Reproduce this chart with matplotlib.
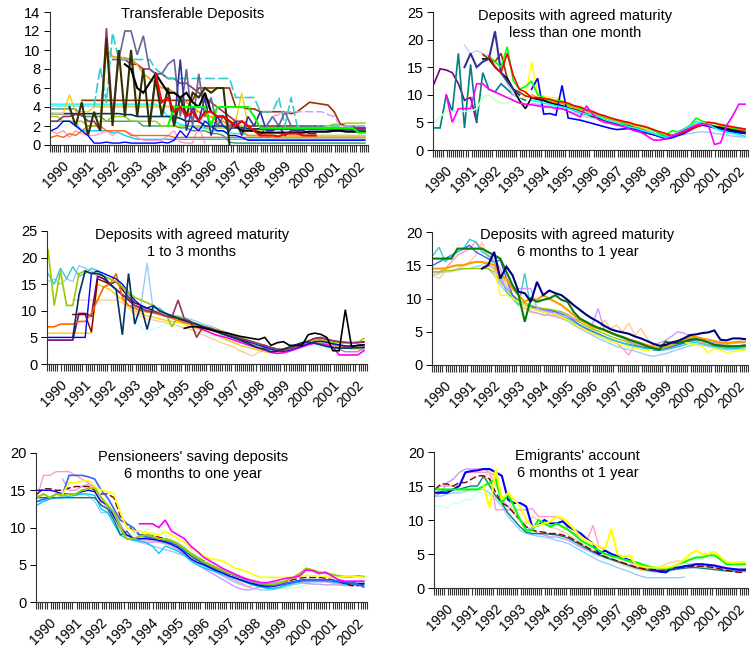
import numpy as np
import matplotlib.pyplot as plt

plt.rcParams["font.family"] = ["Liberation Sans", "DejaVu Sans"]

W, H, DPI = 749, 650, 100
N_MONTHS = 155
year_labels = [str(y) for y in range(1990, 2003)]

# values are read every quarter (3 months), starting at quarter index "start"

# ---- Transferable deposits ----
p1_cyan = [4.3, 4.3, 4.3, 4.3, 4.3, 4.3, 4.3, 4.3, 4.3, 4.3, 4.3, 4.3, 4.3, 4.3, 4.3, 4.3, 4.3, 4.3, 3.8, 3.0,
           2.5, 2.2, 2.0, 2.0, 1.8, 1.8, 1.5, 1.5, 1.4, 1.3, 1.2, 1.2, 1.0, 1.0, 1.0, 1.0, 1.0, 1.0, 1.0, 1.0,
           1.0, 1.0, 1.0, 1.0, 1.0, 1.0, 1.0, 1.0, 1.0, 1.0, 1.0, 1.0]
p1_lightblue = [4.1, 4.1, 4.1, 4.1, 4.1, 4.1, 4.1, 4.1, 4.1, 4.1, 4.1, 4.1, 4.1, 4.1, 4.1, 4.1, 4.1, 4.1, 4.1, 4.1,
                4.1, 3.5, 3.0, 3.0, 2.8, 2.5, 2.5, 2.2, 2.0, 2.0, 2.0, 1.8, 1.8, 1.6, 1.6, 1.6, 1.6, 1.6, 1.6, 1.6,
                1.6, 1.6, 1.6, 1.6, 1.6, 1.6, 1.6, 1.6, 1.6, 1.6, 1.6, 1.6]
p1_teal = [3.8, 3.8, 3.8, 3.8, 3.8, 3.0, 3.0, 3.0, 3.0, 2.5, 2.5, 2.5, 2.5, 2.5, 2.5, 2.0, 2.0, 2.0, 2.0, 2.0,
           2.0, 1.8, 1.8, 1.5, 1.5, 1.5, 1.2, 1.2, 1.0, 0.3, 0.2, 0.2, 0.2, 0.2, 0.2, 0.2, 0.2, 0.2, 0.2, 0.2,
           0.2, 0.2, 0.2, 0.2, 0.2, 0.2, 0.2, 0.2, 0.2, 0.2, 0.2, 0.2]
p1_navy = [3.3, 3.3, 3.3, 3.3, 3.3, 3.3, 3.3, 3.3, 3.3, 3.3, 3.3, 3.3, 3.2, 3.2, 3.0, 3.0, 3.0, 3.0, 3.0, 3.0,
           3.0, 2.8, 2.5, 2.5, 2.5, 2.0, 2.0, 2.0, 2.0, 1.8, 1.8, 1.8, 1.7, 1.7, 1.7, 1.7, 1.7, 1.7, 1.7, 1.7,
           1.7, 1.7, 1.7, 1.7, 1.7, 1.7, 1.7, 1.7, 1.7, 1.7, 1.7, 1.7]
p1_sky = [2.5, 2.5, 2.5, 2.5, 2.3, 1.5, 1.5, 1.5, 1.5, 1.5, 1.3, 1.3, 1.0, 0.8, 0.6, 0.6, 0.6, 0.6, 0.6, 0.6,
          0.6, 0.6, 0.6, 0.6, 0.6, 0.6, 0.6, 0.6, 0.6, 0.6, 0.6, 0.6, 0.6, 0.6, 0.6, 0.6, 0.6, 0.6, 0.6, 0.6,
          0.6, 0.6, 0.6, 0.6, 0.6, 0.6, 0.6, 0.6, 0.6, 0.6, 0.6, 0.6]
p1_pink = [1.5, 1.2, 1.5, 0.8, 1.5, 1.2, 1.0, 1.0, 1.2, 1.5, 1.0, 1.5, 1.5, 1.2, 0.8, 0.5, 0.5, 0.5, 0.5, 1.0,
           1.5, 0.3, 0.2, 0.2, 2.0, 0.2]
p1_orange_low = [0.8, 1.0, 0.8, 1.2, 1.0, 1.5, 2.0, 2.0, 2.0, 1.5, 1.5, 1.5, 1.5, 1.0, 1.0, 1.0, 1.0, 1.0, 1.0, 1.0,
                 0.8, 0.8, 0.8, 0.8, 0.8, 0.8, 0.8, 0.8, 0.8, 0.8, 0.8, 0.8, 0.8, 0.8, 0.8, 0.8, 0.8, 0.8, 0.8, 0.8,
                 0.8, 0.8, 0.8, 0.8, 0.8, 0.8, 0.8, 0.8, 0.8, 0.8, 0.8, 0.8]
p1_gold = [3.3, 3.3, 3.3, 5.3, 3.5, 3.5, 3.5, 4.0, 4.0, 4.0, 4.0, 4.0, 4.0, 4.0, 4.0, 4.0, 4.0, 4.0, 4.0, 4.0,
           4.0, 4.0, 3.5, 3.5, 3.5, 3.0, 3.0, 3.0, 3.0, 2.5, 2.5, 5.5, 2.0, 1.5, 1.5, 1.0, 1.0, 1.0, 1.0, 1.0,
           1.0, 1.0, 1.0, 1.0, 1.0, 1.0, 1.0, 1.0, 1.0, 1.0, 1.0, 1.0]
p1_lime = [3.0, 3.0, 2.5, 2.5, 2.5, 2.5, 2.0, 2.0, 2.5, 2.5, 3.0, 3.0, 3.0, 2.5, 2.5, 2.5, 2.5, 2.5, 2.0, 2.0,
           2.0, 2.0, 2.0, 2.0, 2.0, 1.8, 1.8, 1.8, 1.8, 1.8, 2.0, 2.0, 2.0, 2.0, 2.0, 2.0, 2.0, 2.0, 2.0, 2.0,
           2.0, 2.0, 2.0, 2.0, 2.0, 2.0, 2.2, 2.2, 2.3, 2.3, 2.3, 2.3]
p1_blue = [1.5, 1.8, 2.5, 2.5, 2.0, 1.5, 1.0, 0.2, 0.2, 0.3, 0.2, 0.2, 0.3, 0.2, 0.2, 0.2, 0.2, 0.2, 0.3, 0.2,
           0.5, 1.5, 0.8, 2.0, 1.5, 2.5, 2.0, 1.5, 1.5, 1.0, 1.0, 0.8, 0.5, 0.5, 0.5, 0.5, 0.5, 0.5, 0.5, 0.5,
           0.5, 0.5, 0.5, 0.5, 0.5, 0.5, 0.5, 0.5, 0.5, 0.5, 0.5, 0.5]
p1_brown = [4.7, 4.7, 4.7, 4.7, 4.7, 4.7, 4.7, 4.7, 4.7, 4.7, 4.7, 4.7, 4.7, 4.7, 4.7, 4.7, 4.7, 4.7, 4.7,
            6.0, 6.0, 6.0, 6.0, 6.0, 6.0, 4.0, 4.0, 3.8, 3.8, 3.5, 3.5, 3.5, 3.5, 3.5, 3.3, 3.5, 4.0, 4.5, 4.4,
            4.3, 4.2, 3.5, 2.2, 2.0, 2.0, 1.8, 1.8]
p1_plum = [2.5, 2.5, 3.0, 3.0, 3.2, 3.2, 2.5, 2.5, 1.5, 12.3, 3.0, 9.0, 9.0, 8.5, 8.5, 8.0, 8.0, 7.5, 7.5, 7.0,
           7.0, 6.5, 6.5, 6.0, 5.5, 5.0, 4.5, 4.0, 3.5, 3.0, 2.5, 2.5, 2.0, 2.0, 2.0, 2.0, 2.0, 2.0, 2.0, 2.0,
           2.0, 2.0, 2.0, 2.0, 1.8, 1.8, 1.8, 1.8, 1.8, 1.8, 1.8, 1.8]
p1_darkgreen = [4.0, 2.0, 4.5, 1.0, 3.5, 1.5, 11.2, 2.0, 10.0, 3.0, 10.0, 3.0, 8.0, 2.0, 7.0, 3.0, 6.0,
                2.0, 5.0, 3.0, 5.5, 5.0, 6.0, 5.5, 6.0, 6.0, 0.0]
p1_orange = [2.0, 10.2, 9.3, 9.2, 9.2, 9.0, 8.5, 7.5, 7.0, 6.5, 6.0, 6.0, 5.5, 5.0, 4.5, 4.0, 3.5, 3.0, 3.0, 2.5,
             2.5, 2.0, 2.0, 1.5, 1.0, 1.0, 1.0, 1.0, 0.8, 0.8, 0.8, 0.8, 0.8, 0.8, 0.8, 0.8, 0.8, 0.8, 0.8, 0.8,
             0.8, 0.8, 0.8, 0.8]
p1_aqua = [4.1, 8.2, 4.5, 11.8, 9.0, 9.0, 9.0, 9.0, 9.0, 9.0, 8.0, 7.5, 7.0, 7.0, 7.0, 7.0, 7.0, 7.0, 7.0, 7.0,
           7.0, 7.0, 7.0, 5.0, 5.0, 5.0, 5.0, 3.5, 3.5, 3.5, 5.0, 2.0, 5.0, 2.0, 2.0, 2.0, 2.0, 2.0, 2.0, 2.0,
           2.0, 2.0, 2.0, 2.0, 2.0]
p1_slate = [9.0, 9.0, 12.0, 12.0, 9.5, 11.5, 8.0, 7.5, 7.5, 8.5, 9.0, 3.0, 8.0, 2.0, 7.5, 3.0, 5.0, 2.0,
            3.0, 2.0, 2.5, 1.5, 2.0, 1.5, 1.0, 2.0, 3.0, 2.0, 3.5, 2.0, 1.5, 2.0, 2.0, 1.8, 2.0, 1.5, 1.5, 1.5,
            1.5, 1.5, 1.5, 1.5]
p1_indigo = [2.0, 7.5, 3.0, 6.0, 2.0, 9.0, 1.5, 4.0, 2.5, 5.0, 1.0, 3.0, 2.0, 1.5, 2.5, 1.0, 3.0, 2.0, 3.5, 1.5,
             1.5, 2.0, 1.0, 1.5, 1.5, 1.5, 1.2, 1.2]
p1_black = [8.5, 8.0, 6.0, 5.5, 6.5, 7.5, 6.5, 5.5, 5.5, 5.0, 5.5, 4.5, 4.0, 5.5, 3.5, 3.0, 3.0, 2.5, 2.0, 1.5,
            1.5, 1.5, 1.3, 1.3, 1.3, 1.3, 1.3, 1.3, 1.3, 1.3, 1.4, 1.4, 1.4, 1.4, 1.5, 1.5, 1.4, 1.4, 1.4, 1.4]
p1_lavender = [3.0, 3.2, 3.5, 3.5, 3.5, 3.5, 3.5, 3.5, 3.5, 3.2, 3.0, 2.0, 2.0, 2.0, 2.0, 2.0]
p1_green = [2.0, 4.0, 4.0, 4.0, 4.0, 4.0, 4.0, 2.0, 4.0, 4.0, 4.0, 4.0, 4.0, 4.0, 3.0, 1.8, 1.8, 1.8, 1.8, 1.8,
            1.8, 1.8, 1.8, 1.8, 1.8, 1.8, 1.8, 1.8, 1.8, 1.8, 1.8, 1.3, 1.3]
p1_red = [7.5, 4.5, 5.0, 3.5, 4.0, 3.0, 3.5, 2.5, 3.5, 3.5, 3.0, 3.0, 2.5, 2.0, 2.5, 2.0, 1.5, 1.0, 1.0,
          1.0, 0.9, 1.2, 1.2, 1.2, 1.0, 1.0, 1.0]

# ---- Agreed maturity, less than one month ----
p2_purple = [12.0, 14.7, 14.5, 14.0, 12.0, 9.0, 9.5, 5.0]
p2_teal = [4.0, 4.0, 10.0, 7.0, 17.5, 4.0, 15.5, 5.0, 14.0, 11.0, 10.5, 12.0, 11.0, 10.0, 9.5, 9.0]
p2_lightgreen = [5.0, 6.0, 7.0, 7.0, 7.0, 7.0, 7.0, 7.5, 9.5, 10.0, 9.0, 8.5, 8.5, 8.8, 8.5, 8.3, 8.2, 8.0, 7.8, 7.5]
p2_navy = [15.0, 17.5, 15.0, 16.0, 16.5, 21.5, 14.0, 12.5, 11.0, 10.0]
p2_lavender = [19.0, 17.5, 18.0, 17.5, 17.0, 15.5, 14.0, 12.0, 10.0, 9.5]
p2_brown = [17.3, 16.5, 16.0, 17.5, 13.0, 11.0, 10.5, 9.8, 9.5, 9.2, 9.0, 8.6, 8.2, 8.0, 7.6, 7.4, 7.0, 6.6, 6.2,
            5.8, 5.4, 5.0, 4.7, 4.4, 4.0, 3.5, 3.2, 3.0, 2.8, 2.6, 2.4, 2.6, 3.0, 3.4, 3.9, 4.4, 4.7, 4.6, 4.3,
            4.1, 3.9, 3.7, 3.5, 3.4]
p2_black = [16.5, 16.5, 15.0, 14.0, 13.0, 11.0, 9.0, 7.5, 9.5, 9.2, 9.0, 8.5, 8.3, 8.0, 7.6, 7.2, 6.8, 6.5, 6.1,
            5.8, 5.4, 5.1, 4.8, 4.6, 4.3, 4.0, 3.6, 3.2, 2.8, 2.5, 2.2, 2.4, 2.8, 3.2, 3.8, 4.3, 4.6, 4.5, 4.2,
            4.0, 3.8, 3.5, 3.3, 3.1]
p2_yellow = [9.5, 9.5, 16.0, 10.0, 9.8, 9.5, 9.5, 9.0, 8.5, 8.0, 7.5, 7.0, 6.7, 6.3, 5.8, 5.5, 5.2, 5.0, 4.6, 4.3,
             4.0, 3.6, 3.0, 2.5, 2.2, 2.4, 2.8, 3.2, 3.5, 4.0, 4.5, 4.3, 4.0, 3.8, 3.6, 3.4, 3.3, 3.3]
p2_paleblue = [8.5, 8.3, 8.1, 7.9, 7.7, 7.4, 7.0, 6.8, 6.4, 6.0, 5.8, 5.5, 5.2, 4.9, 4.6, 4.4, 4.1, 3.8, 3.5, 3.2,
               2.9, 2.5, 2.2, 2.3, 2.6, 2.8, 3.0, 3.2, 3.3, 3.2, 3.0, 2.9, 2.7, 2.5, 2.4, 2.3]
p2_orange = [10.0, 9.5, 9.0, 8.8, 8.6, 8.4, 8.0, 7.7, 7.3, 7.0, 6.6, 6.2, 5.8, 5.5, 5.2, 4.9, 4.5, 4.2, 3.9, 3.5,
             3.0, 2.7, 2.5, 2.7, 3.1, 3.6, 4.1, 4.7, 4.9, 4.7, 4.3, 4.2, 4.0, 3.8, 3.7, 3.6]
p2_blue = [11.0, 13.0, 6.5, 6.6, 6.3, 11.7, 5.8, 5.6, 5.4, 5.1, 4.8, 4.5, 4.2, 3.9, 3.7, 3.8, 3.9, 3.7, 3.4, 3.1,
           2.8, 2.4, 2.0, 2.2, 2.6, 3.0, 3.6, 4.2, 4.5, 4.3, 4.0, 3.8, 3.5, 3.3, 3.1, 3.0]
p2_cyan = [9.0, 8.8, 8.5, 8.3, 8.0, 7.8, 7.5, 7.2, 6.8, 6.5, 6.3, 6.0, 5.5, 5.2, 4.9, 4.6, 4.2, 4.0, 3.6, 3.3,
           3.0, 2.6, 2.3, 2.5, 3.2, 3.7, 4.3, 5.2, 4.8, 4.6, 4.0, 3.5, 3.2, 3.0, 2.8, 2.5]
p2_green = [17.0, 16.0, 15.0, 18.7, 12.5, 11.0, 11.5, 12.5, 10.0, 9.5, 9.0, 9.0, 8.8, 8.2, 8.0, 7.5, 7.2, 6.8,
            6.4, 6.0, 5.7, 5.4, 5.1, 4.8, 4.6, 4.3, 4.0, 3.5, 3.0, 2.6, 3.5, 3.3, 3.8, 4.5, 5.8, 5.2, 5.0, 4.8,
            4.5, 4.2, 4.0, 3.9, 3.8]
p2_red = [17.0, 15.0, 14.0, 17.5, 13.5, 11.0, 10.5, 9.5, 9.5, 9.3, 9.2, 8.8, 8.7, 8.5, 8.0, 7.8, 7.3, 7.0, 6.5,
          6.2, 5.8, 5.5, 5.2, 5.0, 4.6, 4.4, 4.1, 3.7, 3.3, 3.0, 2.6, 2.8, 3.2, 3.7, 4.2, 4.6, 5.0, 4.9, 4.6,
          4.4, 4.2, 4.0, 3.8]
p2_magenta = [10.0, 5.0, 7.5, 7.5, 7.5, 12.0, 12.0, 11.0, 10.5, 10.0, 9.5, 9.0, 8.5, 8.3, 8.2, 8.0, 7.8, 7.8,
              7.5, 7.5, 7.0, 6.5, 6.0, 8.0, 6.5, 5.5, 5.0, 4.8, 4.5, 4.3, 3.8, 3.5, 3.2, 2.5, 1.8, 1.8, 2.0,
              2.5, 3.0, 3.5, 4.0, 4.5, 4.8, 4.5, 1.0, 1.3, 4.5, 6.2, 8.3, 8.3]

# ---- Agreed maturity, 1 to 3 months ----
p3_lime = [21.5, 11.0, 17.5, 11.0, 11.0, 17.0, 17.5, 17.0, 17.0, 16.5, 16.0, 15.5, 14.5, 13.5, 12.5, 12.0,
           11.5, 11.0, 10.0, 9.5, 7.0, 9.0, 8.5, 8.0, 7.5, 7.2, 6.8, 6.5, 6.2, 5.8, 5.4, 5.0, 4.6, 4.2, 3.8,
           3.5, 3.1, 2.8, 2.6, 2.8, 3.2, 3.7, 4.1, 4.5, 4.6, 4.4, 4.1, 4.0, 3.9, 3.9, 4.0, 4.8]
p3_navy = [5.0, 5.0, 5.0, 5.0, 5.0, 5.0, 5.0, 17.0, 17.5, 17.0, 16.5, 16.0, 15.0, 13.5, 12.0, 11.0, 10.5, 11.0,
           10.0, 9.5, 9.0, 8.7, 8.3, 8.0, 7.5, 7.0, 6.7, 6.3, 5.8, 5.4, 5.0, 4.7, 4.3, 4.0, 3.6, 3.2, 2.8, 2.5,
           2.4, 2.6, 3.0, 3.4, 3.8, 4.2, 4.3, 4.1, 3.8, 3.6, 3.4, 3.4, 3.5, 3.6]
p3_purple = [4.5, 4.5, 4.5, 4.5, 4.5, 9.5, 9.5, 9.0, 16.5, 16.0, 15.0, 14.0, 13.0, 12.0, 11.0, 10.5]
p3_darkred = [9.3, 9.3, 9.3, 6.0, 16.0, 15.5, 15.0, 15.5, 14.0, 12.5, 11.5, 11.0, 10.5, 10.0, 9.5, 9.0, 8.8,
              8.5, 8.2, 7.8, 7.5, 7.0, 6.8, 6.4, 6.0, 5.5, 5.2, 4.8, 4.4, 4.0, 3.7, 3.3, 3.0, 2.8, 2.7, 3.0,
              3.5, 3.9, 4.3, 4.8, 4.9, 4.6, 4.3, 4.1, 4.0, 4.0, 4.1, 4.2]
p3_orange = [7.0, 7.0, 7.5, 7.5, 7.5, 8.0, 8.0, 9.5, 12.0, 14.5, 15.0, 17.0, 12.5, 11.0, 10.5, 10.0, 9.8, 9.6,
             9.3, 9.0, 8.6, 8.2, 7.8, 7.5, 7.1, 6.8, 6.5, 6.1, 5.7, 5.3, 5.0, 4.6, 4.2, 3.9, 3.5, 3.2, 2.9, 2.7,
             2.8, 3.0, 3.5, 4.0, 4.3, 4.6, 4.5, 4.2, 3.9, 3.5, 3.2, 3.3, 3.0, 3.2]
p3_gold = [5.8, 5.8, 5.8, 5.8, 5.8, 5.8, 5.8, 5.8, 15.0, 14.5, 14.0, 13.0, 12.0, 11.0, 10.0, 9.5, 9.0, 8.8, 8.5,
           8.2, 8.0, 7.8, 7.5, 7.0, 6.7, 6.3, 6.0, 5.5, 5.0, 4.5, 4.0, 3.5, 3.2, 2.9, 2.6, 2.3, 2.1, 2.0, 2.2,
           2.6, 3.0, 3.4, 3.8, 4.2, 4.0, 3.8, 3.5, 3.3, 3.0, 2.8, 2.8, 2.7]
p3_tan = [12.0, 12.0, 12.0, 12.0, 12.0, 12.0, 12.0, 12.0, 11.5, 10.5, 9.5, 9.0, 8.5, 8.3, 8.0, 7.8, 7.5, 7.2,
          6.8, 6.5, 6.0, 5.5, 5.0, 4.5, 4.0, 3.6, 3.2, 2.5, 2.0, 1.5, 2.2, 2.5]
p3_lightblue = [15.5, 16.0, 15.0, 16.0, 15.5, 18.5, 18.0, 17.5, 16.5, 16.0, 15.0, 14.0, 13.0, 12.0, 11.5, 11.0,
                19.0, 10.0, 9.8, 9.5, 9.2, 9.0, 8.7, 8.4, 8.0, 7.5, 7.2, 6.8, 6.3, 5.9, 5.4, 4.9, 4.4, 4.0,
                3.6, 3.2, 2.9, 2.6, 2.5, 2.7, 3.1, 3.5, 3.9, 4.2, 4.3, 4.1, 3.9, 3.6, 3.4, 3.3, 3.3, 3.3]
p3_teal = [17.0, 15.0, 18.0, 16.0, 18.3, 16.5, 17.0, 18.0, 17.5, 16.5, 16.0, 15.5, 14.5, 13.0, 11.5, 11.0, 10.0,
           10.5, 10.5, 9.5, 9.0, 8.5, 8.0, 7.7, 7.3, 7.0, 6.6, 6.2, 5.8, 5.4, 5.0, 4.5, 4.1, 3.8, 3.4, 3.0, 2.7,
           2.5, 2.4, 2.7, 3.1, 3.5, 3.9, 4.1, 4.1, 3.9, 3.6, 3.4, 3.1, 3.0, 2.9, 2.9]
p3_palecyan = [8.0, 7.0, 6.0, 6.5, 7.0, 7.5, 7.3, 7.0, 6.8, 6.5, 6.2, 5.9, 5.5, 5.1, 4.7, 4.3, 3.9, 3.5, 3.1,
               2.8, 2.5, 2.3, 2.2, 2.4, 2.8, 3.2, 3.5, 3.7, 3.6, 3.4, 3.2, 3.0, 2.9, 2.9, 3.0, 3.0, 3.0, 3.0]
p3_magenta = [7.0, 6.5, 6.0, 5.5, 5.2, 4.9, 4.5, 4.1, 3.7, 3.3, 3.0, 2.6, 2.2, 2.0, 2.1, 2.4, 2.8, 3.2, 3.6,
              3.9, 3.8, 3.6, 3.2, 1.7, 1.7, 1.7, 1.7, 2.5]
p3_gray = [7.3, 6.9, 6.6, 6.2, 5.8, 5.4, 5.0, 4.6, 4.3, 3.9, 3.5, 3.2, 2.9, 2.6, 2.5, 2.6, 3.0, 3.4, 3.8, 4.1,
           4.2, 4.0, 3.8, 2.8, 2.3, 2.3, 2.3, 3.0]
p3_plum = [13.0, 12.5, 11.0, 10.5, 10.0, 9.8, 9.5, 9.0, 8.8, 12.0, 8.5, 8.0, 5.0, 7.0, 6.8, 6.4, 6.0, 5.6, 5.2,
           4.8, 4.5, 4.2, 3.8, 3.5, 3.1, 2.8, 2.6, 2.8, 3.3, 3.8, 4.3, 4.8, 5.0, 4.7, 4.4, 4.2, 4.1, 4.0, 4.0, 4.1]
p3_darkteal = [5.0, 13.0, 17.5, 17.0, 17.0, 16.5, 15.0, 14.0, 5.5, 17.0, 7.5, 11.0, 6.5, 11.0, 10.0, 9.5, 9.0,
               8.6, 8.2, 7.8, 7.5, 7.0, 6.6, 6.2, 5.7, 5.3, 4.9, 4.5, 4.0, 3.5, 3.0, 2.8, 2.3, 2.4, 2.8, 3.2,
               3.6, 4.0, 4.1, 3.9, 3.6, 3.3, 3.1, 3.0, 3.0, 3.0, 3.1, 3.1]
p3_black = [6.7, 7.0, 7.0, 6.8, 6.5, 6.2, 6.0, 5.8, 5.5, 5.2, 5.0, 4.8, 4.6, 5.0, 3.5, 4.0, 4.2, 3.5, 3.5, 3.5,
            5.5, 5.8, 5.6, 5.0, 2.5, 2.5, 10.2, 3.3, 3.5, 3.6]

# ---- Agreed maturity, 6 months to 1 year ----
p4_green = [16.0, 16.0, 16.0, 16.0, 17.5, 17.5, 17.5, 17.5, 17.5, 17.0, 16.5, 16.0, 14.0, 12.0, 10.5, 6.5, 10.0,
            9.5, 9.8, 10.0, 10.5, 9.8, 9.5, 8.0, 7.0, 6.5, 6.0, 5.6, 5.3, 4.9, 4.5, 4.2, 3.8, 3.5, 3.2, 2.8, 2.5,
            2.3, 3.5, 3.3, 3.3, 3.5, 3.8, 3.9, 3.7, 3.4, 3.0, 2.9, 2.8, 2.8, 2.8, 2.9]
p4_turq = [16.5, 17.7, 15.5, 16.5, 17.0, 17.5, 18.9, 18.5, 17.0, 16.5, 15.5, 13.5, 11.0, 10.0, 9.0, 13.8, 8.5,
           8.3, 8.0, 7.8, 7.6, 7.3, 7.0, 6.3, 5.8, 5.3, 4.9, 4.5, 4.2, 3.9, 3.6, 3.3, 3.0, 2.8, 2.6, 2.4, 2.3, 2.2,
           2.3, 2.5, 2.7, 3.0, 3.3, 3.4, 3.2, 3.0, 2.8, 2.6, 2.5, 2.5, 2.5, 2.6]
p4_pink = [14.0, 14.0, 14.5, 15.5, 16.5, 17.0, 17.5, 18.5, 17.5, 16.5, 16.0, 14.5, 12.0, 10.5, 9.5, 9.0, 8.0,
           7.8, 7.5, 7.5, 7.3, 7.0, 6.8, 6.2, 5.6, 5.2, 4.8, 4.4, 4.0, 3.6, 3.3, 2.5, 1.5, 3.0, 2.8, 2.6, 2.4,
           2.3, 2.5, 2.7, 3.0, 3.3, 3.6, 3.6, 3.4, 3.1, 2.9, 2.8, 2.6, 2.6, 2.7, 2.8]
p4_tan = [13.5, 13.0, 14.0, 14.0, 14.5, 15.0, 15.5, 16.5, 18.5, 16.0, 15.0, 13.5, 12.0, 10.0, 9.0, 8.5, 8.5, 8.2,
          8.0, 7.8, 7.5, 7.3, 7.0, 6.5, 6.0, 5.6, 5.3, 5.0, 6.8, 5.5, 6.0, 5.0, 6.3, 4.5, 5.5, 4.0, 3.0, 2.7,
          2.6, 2.8, 3.2, 3.6, 4.0, 4.2, 4.0, 3.8, 3.5, 3.3, 3.2, 3.2, 3.3, 3.3]
p4_lightblue = [13.5, 13.8, 14.0, 14.2, 14.5, 14.5, 14.5, 14.8, 15.0, 14.5, 13.5, 12.0, 11.0, 10.0, 9.0, 8.5,
                8.0, 7.8, 7.6, 7.5, 7.3, 7.0, 6.6, 6.0, 5.5, 5.0, 4.5, 4.0, 3.6, 3.2, 2.8, 2.5, 2.3, 2.1, 1.8,
                1.5, 1.3, 1.5, 1.7, 2.0, 2.3, 2.6, 2.9, 3.1, 3.0, 2.8, 2.6, 2.4, 2.3, 2.3, 2.4, 2.4]
p4_blue = [15.0, 15.5, 16.0, 16.5, 17.0, 17.5, 18.0, 17.0, 16.5, 16.0, 15.5, 15.8, 13.0, 10.5, 9.5, 9.0, 8.8,
           8.5, 8.3, 8.2, 8.0, 7.7, 7.3, 6.7, 6.0, 5.5, 5.1, 4.7, 4.3, 3.9, 3.6, 3.3, 3.1, 2.9, 2.7, 2.5, 2.3,
           2.2, 2.4, 2.7, 3.0, 3.3, 3.6, 3.8, 3.7, 3.4, 3.2, 3.0, 2.8, 2.8, 2.9, 3.0]
p4_lime = [14.0, 14.0, 14.2, 14.2, 14.3, 14.5, 14.5, 14.5, 14.5, 14.5, 14.0, 12.5, 11.5, 10.5, 9.8, 9.3, 9.0,
           8.7, 8.5, 8.4, 8.2, 8.0, 7.6, 7.0, 6.4, 5.9, 5.5, 5.1, 4.7, 4.3, 4.0, 3.7, 3.4, 3.1, 2.9, 2.7, 2.5,
           2.4, 2.6, 2.9, 3.2, 3.5, 3.9, 4.0, 3.8, 3.5, 3.3, 3.1, 3.0, 2.9, 2.9, 3.0]
p4_yellow = [15.0, 14.8, 14.5, 10.5, 10.5, 10.0, 9.5, 9.0, 8.5, 8.3, 8.0, 7.8, 7.6, 7.2, 6.8, 6.2, 5.7, 5.2, 4.8,
             4.4, 4.0, 3.6, 3.3, 3.0, 2.7, 2.5, 2.3, 2.2, 2.4, 2.7, 3.0, 3.4, 3.6, 3.5, 3.2, 3.0, 2.8, 1.8, 2.5,
             2.2, 1.9, 2.0, 2.1, 2.2]
p4_lavender = [15.5, 15.0, 14.5, 13.0, 11.5, 11.5, 11.5, 11.5, 11.5, 8.5, 8.2, 8.0, 7.8, 7.5, 7.3, 7.0, 6.7,
               6.4, 6.0, 8.5, 5.2, 4.8, 4.4, 4.0, 3.6, 3.3, 3.0, 2.8, 3.0, 3.3, 3.7, 4.3, 5.0, 4.8, 4.4, 4.0,
               3.7, 3.5, 3.3, 3.2, 3.2, 3.3, 3.4, 3.5]
p4_orange = [14.5, 14.5, 14.5, 14.8, 15.0, 15.0, 15.3, 15.5, 15.5, 15.3, 15.0, 13.5, 13.0, 11.5, 10.5, 9.5,
             10.0, 9.8, 10.5, 10.0, 9.5, 9.0, 8.3, 7.5, 6.8, 6.3, 5.8, 5.5, 5.2, 4.8, 4.5, 4.2, 3.9, 3.6, 3.3,
             3.0, 2.7, 2.5, 2.8, 3.2, 3.4, 3.8, 4.2, 4.2, 4.0, 3.8, 3.6, 3.4, 3.3, 3.4, 3.5, 3.5]
p4_navy = [14.5, 15.0, 17.0, 13.0, 14.8, 13.5, 11.0, 10.8, 9.5, 12.5, 10.5, 11.2, 10.8, 10.5, 9.8, 9.0, 8.3,
           7.6, 7.0, 6.5, 5.9, 5.4, 5.1, 4.9, 4.7, 4.3, 4.0, 3.6, 3.2, 2.9, 3.0, 3.4, 3.6, 4.0, 4.5, 4.6, 4.8,
           4.9, 5.2, 3.8, 3.7, 4.0, 4.0, 3.9]

# ---- Pensioners' saving deposits ----
p5_pink = [14.0, 17.0, 17.0, 17.5, 17.5, 17.5, 17.0, 16.5, 16.0, 15.0, 13.0, 12.5, 11.5, 10.0, 9.0, 8.5, 8.5,
           8.3, 8.2, 8.0, 7.8, 7.5, 7.0, 6.5, 6.0, 5.5, 5.0, 4.5, 4.0, 3.6, 3.2, 2.8, 2.5, 2.0, 2.5, 2.2, 1.9,
           1.8, 2.0, 2.3, 2.6, 2.8, 2.8, 2.9, 2.8, 2.7, 2.6, 2.4, 2.3, 2.3, 2.3, 2.2]
p5_lavender = [16.5, 15.0, 15.0, 15.5, 15.8, 15.5, 14.0, 12.5, 12.0, 10.5, 9.0, 8.5, 8.2, 8.0, 8.0, 8.2, 8.0,
               7.6, 7.0, 6.3, 5.6, 5.0, 4.5, 4.0, 3.5, 3.0, 2.5, 2.0, 1.7, 1.6, 1.8, 2.1, 2.4, 2.6, 2.7, 2.7,
               2.7, 2.6, 2.5, 2.4, 2.4, 2.3, 2.3, 2.3, 2.2, 2.2, 2.2, 2.2]
p5_lightblue = [13.5, 13.5, 14.0, 14.0, 14.2, 14.5, 14.5, 14.5, 14.3, 13.5, 12.0, 12.0, 11.0, 9.5, 8.5, 8.3,
                8.0, 7.8, 7.5, 7.3, 7.0, 6.8, 6.5, 6.2, 5.8, 5.3, 4.8, 4.4, 4.0, 3.5, 3.0, 2.6, 2.3, 2.0, 1.8,
                1.6, 1.6, 1.7, 1.9, 2.1, 2.3, 2.5, 2.6, 2.7, 2.7, 2.7, 2.6, 2.5, 2.4, 2.4, 2.4, 2.5]
p5_lightgreen = [9.0, 9.5, 10.5, 10.0, 9.0, 8.5, 8.0, 7.5, 7.0, 6.3, 5.7, 5.2, 4.7, 4.3, 3.9, 3.5, 3.1, 2.8,
                 2.5, 2.2, 2.0, 1.9, 1.8, 1.8, 1.9, 2.0, 2.3, 2.6, 2.8, 2.9, 2.9, 2.8, 2.7, 2.6, 2.5, 2.5]
p5_cyan = [13.0, 13.5, 13.8, 14.0, 14.0, 14.2, 14.3, 14.5, 14.5, 14.3, 12.5, 12.0, 10.5, 9.0, 8.5, 8.3, 8.2,
           8.0, 7.5, 6.5, 7.5, 7.2, 6.8, 6.3, 5.5, 5.0, 4.6, 4.3, 4.0, 3.7, 3.4, 3.1, 2.8, 2.5, 2.2, 2.0, 1.8,
           1.8, 2.0, 2.3, 2.5, 2.7, 2.8, 2.8, 2.8, 2.8, 2.7, 2.6, 2.4, 2.3, 2.3, 2.3]
p5_teal = [14.0, 14.0, 14.0, 14.0, 14.0, 14.0, 14.0, 14.0, 14.0, 14.0, 13.0, 12.5, 11.0, 9.0, 9.5, 8.5, 8.5,
           8.6, 8.5, 8.2, 8.0, 7.7, 7.3, 6.8, 6.2, 5.6, 5.1, 4.7, 4.3, 3.9, 3.5, 3.2, 2.9, 2.6, 2.3, 2.1, 2.0,
           2.1, 2.3, 2.5, 2.7, 2.9, 3.0, 3.0, 3.0, 3.0, 2.9, 2.7, 2.5, 2.4, 2.4, 2.4]
p5_darkred = [14.5, 15.2, 15.2, 15.0, 15.0, 15.3, 15.5, 15.5, 15.5, 15.0, 14.5, 14.5, 14.0, 11.5, 10.5, 9.5,
              9.0, 9.0, 8.9, 8.7, 8.5, 8.2, 7.8, 7.2, 6.5, 6.0, 5.5, 5.0, 4.6, 4.2, 3.8, 3.5, 3.2, 2.9, 2.6,
              2.4, 2.3, 2.3, 2.5, 2.8, 3.0, 3.2, 3.3, 3.3, 3.3, 3.2, 3.0, 2.8, 2.5, 2.2, 2.2, 2.3]
p5_navy = [15.0, 15.0, 15.0, 14.8, 14.5, 14.5, 14.5, 14.8, 15.0, 14.8, 13.5, 13.0, 11.5, 10.0, 9.0, 8.6, 8.5,
           8.5, 8.4, 8.3, 8.1, 7.8, 7.3, 6.6, 5.8, 5.3, 5.0, 4.6, 4.2, 3.9, 3.5, 3.2, 2.9, 2.6, 2.4, 2.2, 2.1,
           2.1, 2.3, 2.5, 2.7, 2.9, 3.0, 3.0, 3.0, 3.0, 2.9, 2.8, 2.6, 2.6, 2.5, 2.5]
p5_blue = [13.5, 13.8, 14.0, 14.5, 14.5, 17.0, 17.0, 17.0, 16.8, 16.5, 15.0, 14.0, 12.5, 11.0, 10.5, 10.0, 9.0,
           8.8, 8.6, 8.5, 8.3, 8.0, 7.5, 7.0, 6.5, 5.8, 5.3, 4.9, 4.5, 4.1, 3.8, 3.5, 3.2, 2.9, 2.6, 2.4, 2.2,
           2.2, 2.4, 2.5, 2.7, 2.8, 3.0, 3.0, 3.0, 3.0, 2.9, 2.8, 2.7, 2.6, 2.4, 2.0]
p5_lime = [14.0, 14.5, 14.0, 14.5, 14.3, 14.5, 14.5, 15.0, 15.2, 15.3, 14.0, 13.0, 12.0, 10.0, 8.5, 8.5, 8.8,
           9.0, 8.8, 8.5, 8.4, 8.2, 7.8, 7.2, 6.5, 6.0, 5.4, 5.0, 4.6, 4.2, 3.9, 3.6, 3.3, 3.0, 2.7, 2.5, 2.4,
           2.4, 2.6, 2.9, 3.3, 3.8, 4.5, 4.3, 4.0, 3.9, 3.7, 3.5, 3.4, 3.4, 3.5, 3.4]
p5_yellow = [14.5, 16.0, 16.0, 16.2, 16.3, 15.5, 15.0, 14.8, 14.5, 12.0, 10.0, 9.5, 9.5, 9.3, 9.2, 9.0, 9.5,
             9.0, 8.5, 8.0, 7.3, 6.8, 6.2, 5.8, 5.7, 5.5, 5.0, 4.5, 4.3, 4.0, 3.6, 3.3, 3.3, 3.3, 3.3, 3.3, 3.3,
             3.4, 3.6, 3.5, 3.5, 3.4, 3.3, 3.3, 3.4, 3.5, 3.4, 3.3]
p5_magenta = [10.5, 10.5, 10.5, 10.0, 11.0, 9.5, 9.0, 8.5, 7.5, 6.8, 6.0, 5.5, 5.0, 4.5, 4.1, 3.7, 3.3, 3.0,
              2.8, 2.6, 2.6, 2.8, 3.0, 3.2, 3.3, 3.5, 4.3, 4.2, 3.8, 4.0, 3.5, 3.0, 2.8, 2.8, 2.8, 2.8]

# ---- Emigrants' account ----
p6_lightcyan = [12.0, 12.0, 11.8, 12.5, 12.5, 13.0, 13.0, 14.0, 14.0, 14.5, 14.0, 13.0, 11.5, 10.0, 9.0, 8.5,
                8.0, 7.8, 7.7, 7.5, 7.5, 7.2, 7.0, 6.5, 6.0, 5.5, 5.0, 4.6, 4.2, 3.9, 3.6, 3.3, 3.0, 2.8, 2.6,
                2.4, 2.3, 2.3, 2.4, 2.6, 2.8, 3.0, 3.1, 3.1, 3.0, 2.9, 2.8, 2.7, 2.6, 2.5, 2.5, 2.4]
p6_lightblue = [13.5, 13.5, 13.8, 14.0, 14.0, 14.2, 14.5, 14.5, 14.5, 14.0, 13.0, 12.0, 10.5, 9.5, 8.5, 8.0,
                7.8, 7.6, 7.5, 7.3, 7.0, 6.8, 6.5, 6.0, 5.5, 5.0, 4.5, 4.0, 3.7, 3.4, 3.0, 2.7, 2.4, 2.0, 1.7,
                1.5, 1.5, 1.5, 1.5, 1.5, 1.5, 1.6]
p6_lavender = [13.5, 14.0, 15.5, 16.0, 17.0, 17.5, 17.5, 17.5, 17.5, 17.0, 16.5, 13.0, 12.0, 11.0, 10.0, 9.0,
               8.5, 8.0, 7.8, 7.5, 7.5, 7.3, 7.0, 6.5, 6.0, 5.6, 5.2, 4.8, 4.5, 4.2, 3.9, 3.6, 3.3, 3.0, 2.8,
               2.6, 2.4, 2.3, 2.4, 2.6, 2.8, 3.0, 3.2, 3.3, 3.3, 3.2, 3.0, 2.9, 2.8, 2.7, 2.6, 2.6]
p6_pink = [14.5, 15.0, 15.0, 15.0, 15.0, 17.0, 17.0, 17.0, 17.0, 17.0, 11.5, 11.5, 11.5, 11.5, 11.5, 11.5, 11.7,
           10.5, 10.5, 10.5, 10.5, 10.0, 8.5, 8.0, 7.5, 7.0, 9.2, 6.0, 5.5, 5.0, 4.6, 4.2, 3.8, 3.4, 3.0, 2.8,
           2.6, 2.5, 2.6, 2.8, 3.0, 3.2, 3.5, 3.6, 3.5, 3.3, 3.1, 3.0, 2.9, 2.8, 2.7, 2.6]
p6_tan = [16.0, 17.3, 15.0, 13.5, 13.0, 11.0, 10.0, 9.5, 10.5, 10.0, 9.5, 9.0, 8.7, 8.3, 7.8, 7.2, 6.6, 6.0,
          5.4, 4.9, 4.5, 4.1, 3.8, 3.4, 3.1, 2.8, 2.6, 2.6, 2.8, 3.1, 3.5, 3.8, 4.0, 3.8, 3.5, 3.3, 3.1, 3.0,
          2.9, 2.8, 2.8, 2.8, 2.8, 2.9]
p6_teal = [14.0, 14.2, 14.3, 14.5, 14.5, 14.8, 15.0, 15.0, 16.5, 15.0, 13.5, 12.5, 11.0, 10.0, 9.0, 8.2, 8.0,
           8.0, 8.0, 7.9, 7.8, 7.6, 7.3, 6.8, 6.3, 5.8, 5.3, 4.9, 4.5, 4.2, 3.9, 3.6, 3.3, 3.0, 2.8, 2.6, 2.5,
           2.5, 2.6, 2.7, 2.8, 2.9, 3.0, 3.0, 2.9, 2.8, 2.7, 2.6, 2.5, 2.5, 2.5, 2.5]
p6_darkred = [14.5, 15.3, 15.3, 15.0, 15.5, 15.5, 16.0, 16.5, 16.5, 16.0, 14.0, 12.5, 12.0, 11.0, 10.0, 9.0,
              8.5, 8.3, 8.2, 8.0, 8.0, 7.8, 7.5, 7.0, 6.5, 6.0, 5.5, 5.0, 4.6, 4.3, 4.0, 3.7, 3.4, 3.1, 2.9,
              2.7, 2.6, 2.6, 2.7, 2.8, 3.0, 3.1, 3.2, 3.2, 3.2, 3.1, 3.0, 2.8, 2.6, 2.4, 2.3, 2.3]
p6_green = [14.5, 14.5, 14.5, 14.5, 14.5, 14.5, 14.5, 14.5, 15.0, 15.5, 16.0, 12.5, 13.8, 12.0, 10.0, 8.5, 8.5,
            10.0, 9.5, 9.0, 9.5, 9.0, 8.5, 7.8, 7.0, 6.5, 6.0, 5.5, 5.0, 4.7, 4.5, 4.2, 4.0, 3.8, 3.5, 3.2, 3.0,
            2.8, 2.9, 3.0, 3.5, 3.8, 4.2, 4.5, 4.5, 4.8, 4.8, 4.2, 3.5, 3.5, 3.5, 3.5]
p6_blue = [14.0, 14.0, 14.0, 14.5, 15.0, 17.0, 17.2, 17.3, 17.5, 17.5, 17.0, 16.5, 13.0, 12.5, 12.5, 12.0, 9.0,
           9.2, 10.0, 9.5, 9.5, 9.8, 9.0, 8.5, 8.0, 7.2, 6.5, 5.0, 5.5, 5.0, 4.7, 4.4, 4.1, 3.7, 3.3, 3.0, 2.7,
           2.4, 2.3, 3.0, 3.0, 3.2, 3.3, 3.5, 3.5, 3.4, 3.3, 3.1, 2.9, 2.8, 2.7, 2.7]
p6_yellow = [15.0, 11.8, 17.5, 13.0, 14.0, 13.0, 12.0, 10.0, 9.0, 9.2, 9.5, 9.8, 10.5, 10.3, 9.5, 8.5, 7.5, 7.0,
             6.5, 6.0, 5.8, 8.7, 5.0, 4.5, 4.8, 3.5, 3.2, 3.0, 3.0, 3.0, 3.0, 3.2, 3.5, 4.2, 5.0, 5.5, 5.0, 5.0,
             5.3, 4.5, 3.8, 3.7, 3.8, 3.8]

# (values, colour, start quarter, line width, line style)
panel1 = [
    (p1_cyan, "#00FFFF", 0, 1.0, "-"), (p1_lightblue, "#99CCFF", 0, 1.0, "-"),
    (p1_teal, "#339966", 0, 1.0, "-"), (p1_navy, "#003366", 0, 1.2, "-"),
    (p1_sky, "#00CCFF", 0, 1.0, "-"), (p1_pink, "#FF99CC", 0, 1.0, "-"),
    (p1_orange_low, "#FF6600", 0, 1.0, "-"), (p1_gold, "#FFCC00", 0, 1.0, "-"),
    (p1_lime, "#99CC00", 0, 1.0, "-"), (p1_blue, "#0000FF", 0, 1.0, "-"),
    (p1_brown, "#993300", 5, 1.2, "-"), (p1_plum, "#993366", 0, 1.2, "-"),
    (p1_orange, "#FF9900", 8, 1.2, "-"), (p1_aqua, "#33CCCC", 7, 1.2, (0, (6, 2))),
    (p1_slate, "#666699", 10, 1.2, "-"), (p1_indigo, "#333399", 16, 1.2, "-"),
    (p1_darkgreen, "#333300", 3, 1.5, "-"), (p1_lavender, "#CC99FF", 36, 1.0, (0, (6, 2))),
    (p1_black, "#000000", 12, 1.5, "-"), (p1_green, "#00FF00", 19, 1.5, "-"),
    (p1_red, "#FF0000", 17, 1.5, "-"),
]
panel2 = [
    (p2_purple, "#800080", 0, 1.2, "-"), (p2_teal, "#008080", 0, 1.2, "-"),
    (p2_lightgreen, "#CCFFCC", 0, 1.2, "-"), (p2_lavender, "#CCCCFF", 5, 1.0, "-"),
    (p2_paleblue, "#99CCFF", 16, 1.0, "-"), (p2_yellow, "#FFFF00", 14, 1.0, "-"),
    (p2_orange, "#FF9900", 16, 1.0, "-"), (p2_brown, "#993300", 8, 1.2, "-"),
    (p2_black, "#000000", 8, 1.2, "-"), (p2_blue, "#0000FF", 16, 1.2, "-"),
    (p2_navy, "#333399", 5, 1.5, "-"), (p2_green, "#00FF00", 9, 1.2, "-"),
    (p2_red, "#FF0000", 9, 1.2, "-"), (p2_cyan, "#00FFFF", 16, 1.2, "-"),
    (p2_magenta, "#FF00FF", 2, 1.2, "-"),
]
panel3 = [
    (p3_lightblue, "#99CCFF", 0, 1.0, "-"), (p3_teal, "#33CCCC", 0, 1.0, "-"),
    (p3_palecyan, "#CCFFFF", 14, 1.0, "-"), (p3_tan, "#FFCC99", 4, 1.0, "-"),
    (p3_gold, "#FFCC00", 0, 1.0, "-"), (p3_purple, "#800080", 0, 1.2, "-"),
    (p3_darkred, "#800000", 4, 1.0, "-"), (p3_orange, "#FF6600", 0, 1.2, "-"),
    (p3_gray, "#969696", 24, 1.0, "-"), (p3_magenta, "#FF00FF", 24, 1.2, "-"),
    (p3_navy, "#0000FF", 0, 1.0, "-"), (p3_lime, "#99CC00", 0, 1.2, "-"),
    (p3_plum, "#993366", 12, 1.2, "-"), (p3_darkteal, "#003366", 4, 1.2, "-"),
    (p3_black, "#000000", 22, 1.2, "-"),
]
panel4 = [
    (p4_lightblue, "#99CCFF", 0, 1.0, "-"), (p4_pink, "#FF99CC", 0, 1.0, "-"),
    (p4_tan, "#FFCC99", 0, 1.0, "-"), (p4_lime, "#99CC00", 0, 1.0, "-"),
    (p4_blue, "#3366FF", 0, 1.0, "-"), (p4_turq, "#33CCCC", 0, 1.0, "-"),
    (p4_yellow, "#FFFF00", 8, 1.0, "-"), (p4_lavender, "#CC99FF", 8, 1.0, "-"),
    (p4_orange, "#FF9900", 0, 1.5, "-"), (p4_green, "#008000", 0, 1.5, "-"),
    (p4_navy, "#000080", 8, 1.5, "-"),
]
panel5 = [
    (p5_lightgreen, "#CCFFCC", 16, 1.0, "-"), (p5_lightblue, "#99CCFF", 0, 1.0, "-"),
    (p5_lavender, "#CC99FF", 4, 1.0, "-"), (p5_pink, "#FF99CC", 0, 1.0, "-"),
    (p5_cyan, "#00CCFF", 0, 1.0, "-"), (p5_teal, "#008080", 0, 1.0, "-"),
    (p5_darkred, "#800000", 0, 1.0, (0, (5, 2))), (p5_navy, "#0000FF", 0, 1.0, "-"),
    (p5_blue, "#3366FF", 0, 1.2, "-"), (p5_lime, "#99CC00", 0, 1.5, "-"),
    (p5_yellow, "#FFFF00", 4, 1.2, "-"), (p5_magenta, "#FF00FF", 16, 1.2, "-"),
]
panel6 = [
    (p6_lightcyan, "#CCFFFF", 0, 1.0, "-"), (p6_lightblue, "#99CCFF", 0, 1.0, "-"),
    (p6_lavender, "#CC99FF", 0, 1.0, "-"), (p6_pink, "#FF99CC", 0, 1.0, "-"),
    (p6_tan, "#FFCC99", 8, 1.0, "-"), (p6_teal, "#008080", 0, 1.0, "-"),
    (p6_darkred, "#800000", 0, 1.0, (0, (5, 2))), (p6_blue, "#0000FF", 0, 1.5, "-"),
    (p6_green, "#00FF00", 0, 1.5, "-"), (p6_yellow, "#FFFF00", 8, 1.5, "-"),
]


def add_panel(fig, rect_px, series, ymax, title, title_x, title_y):
    left, right, y0, ytop = rect_px
    ax = fig.add_axes([left / W, 1 - y0 / H, (right - left) / W, (y0 - ytop) / H])
    for values, color, start, lw, ls in series:
        y = np.array(values, dtype=float)
        x = 0.5 + 3 * (start + np.arange(len(y)))
        ax.plot(x, y, color=color, lw=lw, ls=ls, solid_joinstyle="miter")
    ax.set_xlim(0, N_MONTHS)
    ax.set_ylim(0, ymax)
    ax.set_yticks(range(0, ymax + 1, 5 if ymax > 15 else 2))
    ax.set_xticks(np.arange(0, N_MONTHS + 1), minor=True)
    ax.set_xticks([12 * k + 6 for k in range(len(year_labels))], year_labels)
    plt.setp(ax.get_xticklabels(), rotation=45, ha="right", rotation_mode="anchor")
    ax.tick_params(axis="x", which="major", length=0, pad=10, labelsize=10)
    ax.tick_params(axis="x", which="minor", length=5, width=0.8, color="#333333")
    ax.tick_params(axis="y", length=4, width=0.7, pad=3, labelsize=10.5)
    for side in ("top", "right"):
        ax.spines[side].set_visible(False)
    for side in ("left", "bottom"):
        ax.spines[side].set_linewidth(0.8)
        ax.spines[side].set_color("#333333")
    ax.text(title_x, title_y, title, transform=ax.transAxes, ha="center", va="top",
            fontsize=10.5, linespacing=1.28)
    return ax


fig = plt.figure(figsize=(W / DPI, H / DPI), dpi=DPI)
add_panel(fig, (50, 368, 145, 12), panel1, 14, "Transferable Deposits", 0.45, 1.034)
add_panel(fig, (433, 748, 150, 12), panel2, 25,
          "Deposits with agreed maturity\nless than one month", 0.45, 1.025)
add_panel(fig, (47, 367, 364, 231), panel3, 25,
          "Deposits with agreed maturity\n1 to 3 months", 0.453, 1.026)
add_panel(fig, (432, 748, 365, 232), panel4, 20,
          "Deposits with agreed maturity\n6 months to 1 year", 0.46, 1.03)
add_panel(fig, (36, 367, 602, 453), panel5, 20,
          "Pensioneers' saving deposits\n6 months to one year", 0.473, 1.02)
add_panel(fig, (434, 748, 588, 452), panel6, 20,
          "Emigrants' account\n6 months ot 1 year", 0.458, 1.022)
fig.savefig("out.png", dpi=DPI)
